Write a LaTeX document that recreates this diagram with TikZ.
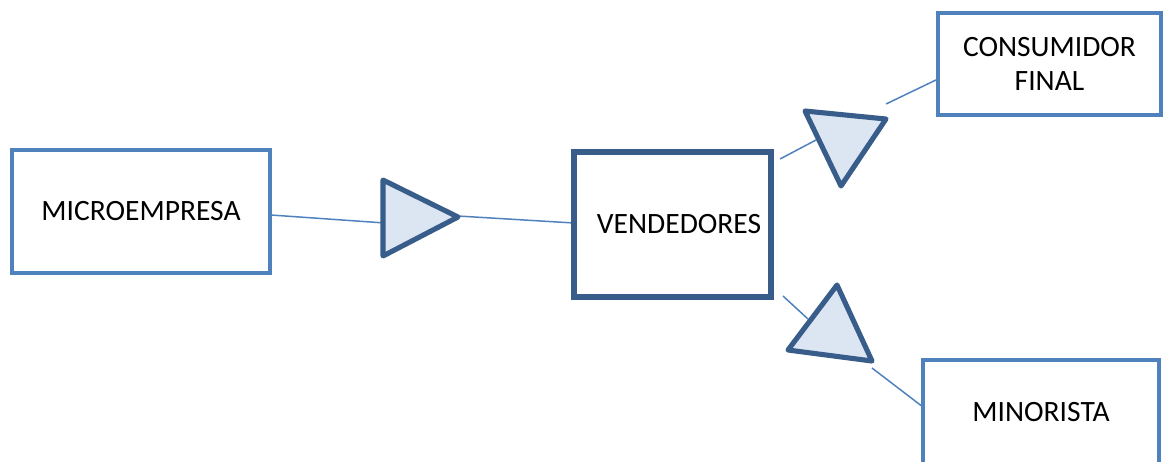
\documentclass[tikz,border=0pt]{standalone}
\usepackage{fontspec}
\setmainfont{Carlito}
\definecolor{lightline}{HTML}{4F81BD}
\definecolor{darkline}{HTML}{385D8A}
\definecolor{trifill}{HTML}{DCE6F2}
\tikzset{
  lightbox/.style={draw=lightline, line width=2.3pt, fill=white, inner sep=0pt, font=\fontsize{16.8}{19.5}\selectfont, align=center},
  darkbox/.style={draw=darkline, line width=2.9pt, fill=white, inner sep=0pt, font=\fontsize{16.8}{19.5}\selectfont, align=center},
  link/.style={draw=lightline, line width=0.85pt},
  arrowtri/.style={draw=darkline, fill=trifill, line width=2.9pt, line join=round},
}
\begin{document}
\begin{tikzpicture}[x=0.02cm, y=-0.02cm]
\useasboundingbox (0,0) rectangle (1165,461);

% connectors (drawn first, triangles sit on top)
\coordinate (m1) at (271,215);
\coordinate (t1a) at (385,223);
\coordinate (t1b) at (458,216);
\coordinate (v1) at (574,223);
\coordinate (v2) at (780,159);
\coordinate (t2a) at (816,140);
\coordinate (t2b) at (886,104);
\coordinate (c1) at (938,79);
\coordinate (v3) at (783,296);
\coordinate (t3a) at (808,319);
\coordinate (t3b) at (872,368);
\coordinate (n1) at (923,407);

\draw[link] (m1) -- (t1a);
\draw[link] (t1b) -- (v1);
\draw[link] (v2) -- (t2a);
\draw[link] (t2b) -- (c1);
\draw[link] (v3) -- (t3a);
\draw[link] (t3b) -- (n1);

% boxes
\node[lightbox, minimum width={258*0.02cm}, minimum height={123*0.02cm}] (micro) at (141,211.5) {MICROEMPRESA};
\node[darkbox, minimum width={197*0.02cm}, minimum height={145*0.02cm}] (vend) at (672.5,224.5) {\hspace{7.5pt}VENDEDORES};
\node[lightbox, minimum width={223*0.02cm}, minimum height={102*0.02cm}] (cons) at (1049.5,64) {CONSUMIDOR\\FINAL};
\node[lightbox, minimum width={236*0.02cm}, minimum height={104*0.02cm}] (mino) at (1041,412) {MINORISTA};

% triangles
\draw[arrowtri] (383,180) -- (383,256) -- (458,217) -- cycle;
\draw[arrowtri] (805,111) -- (886,119) -- (841,186) -- cycle;
\draw[arrowtri] (837,285) -- (788,350) -- (872,361) -- cycle;
\end{tikzpicture}
\end{document}
